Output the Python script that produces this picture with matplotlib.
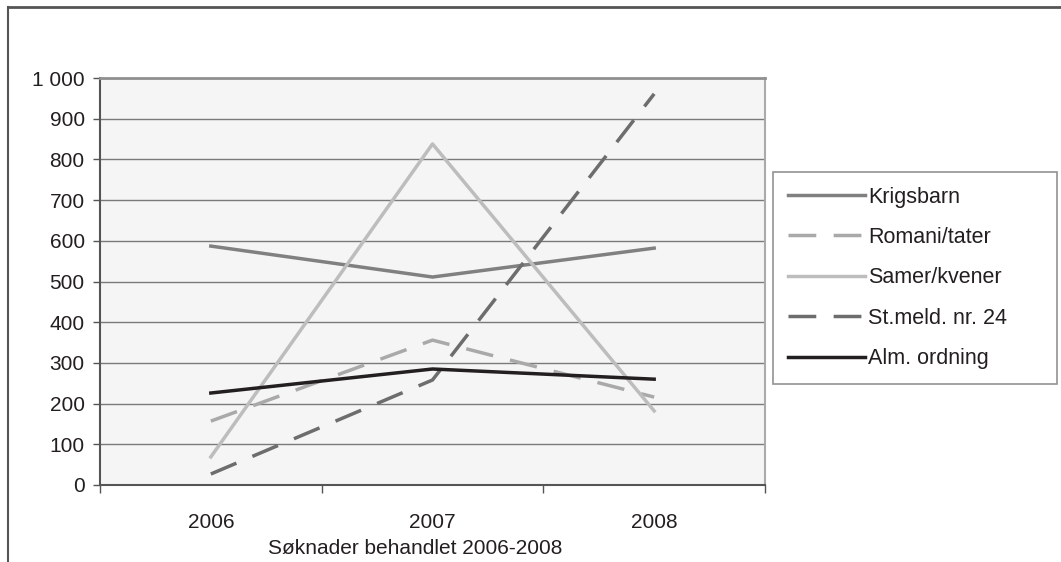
import matplotlib.pyplot as plt
from matplotlib.lines import Line2D
from matplotlib.ticker import FuncFormatter

plt.rcParams['font.family'] = ['Liberation Sans', 'DejaVu Sans']

years = ['2006', '2007', '2008']
krigsbarn = [587, 511, 582]
romani = [157, 356, 216]
samer = [69, 838, 182]
stmeld = [27, 258, 961]
alm = [226, 285, 260]

fig = plt.figure(figsize=(10.61, 5.62), dpi=100)
ax = fig.add_axes([100/1061, 1 - 485/562, 665/1061, 407/562])
ax.set_facecolor('#f4f5f4')

x = range(len(years))
lw = 2.5
ax.plot(x, krigsbarn, color='#808080', lw=lw, label='Krigsbarn')
ax.plot(x, romani, color='#a9a9a9', lw=lw, dashes=(8, 5), label='Romani/tater')
ax.plot(x, samer, color='#bdbdbd', lw=lw, label='Samer/kvener')
ax.plot(x, stmeld, color='#6d6d6d', lw=lw, dashes=(8, 5), label='St.meld. nr. 24')
ax.plot(x, alm, color='#231f20', lw=lw, label='Alm. ordning')

fs = 15
ax.set_xlim(-0.5, 2.5)
ax.set_ylim(0, 1000)
ax.set_yticks(range(0, 1001, 100))
ax.yaxis.set_major_formatter(FuncFormatter(lambda v, p: f'{int(v):,}'.replace(',', ' ')))
ax.set_xticks(list(x))
ax.set_xticklabels(years)
ax.set_xticks([-0.5, 0.5, 1.5, 2.5], minor=True)
ax.tick_params(axis='x', which='major', length=0, pad=20, labelsize=fs, colors='#231f20')
ax.tick_params(axis='x', which='minor', length=6, width=1, color='#555555')
ax.tick_params(axis='y', length=5, width=1, color='#555555', labelsize=fs, labelcolor='#231f20', pad=6)
ax.grid(axis='y', color='#7a7a7a', lw=1)
ax.set_axisbelow(True)

ax.spines['top'].set_color('#909090')
ax.spines['top'].set_linewidth(2)
ax.spines['left'].set_color('#555555')
ax.spines['left'].set_linewidth(1.5)
ax.spines['bottom'].set_color('#555555')
ax.spines['bottom'].set_linewidth(1.5)
ax.spines['right'].set_color('#aaaaaa')
ax.spines['right'].set_linewidth(1.5)

fig.text(268/1061, 1 - 548/562, 'Søknader behandlet 2006-2008', fontsize=fs,
         color='#231f20', va='center', ha='left')

leg = fig.legend(loc='upper left', bbox_to_anchor=(773/1061, 1 - 382/562, 284/1061, 210/562),
                 mode='expand', frameon=True, fancybox=False, fontsize=15.5, handlelength=3.6,
                 handletextpad=0.15, labelspacing=0.9, borderpad=0.68, borderaxespad=0)
leg.get_frame().set_edgecolor('#777777')
leg.get_frame().set_linewidth(1.2)
for t in leg.get_texts():
    t.set_color('#231f20')

# outer frame (top and left edges)
fig.add_artist(Line2D([8/1061, 1], [1 - 7/562, 1 - 7/562], color='#555555', lw=2, transform=fig.transFigure))
fig.add_artist(Line2D([8/1061, 8/1061], [0, 1 - 7/562], color='#555555', lw=1.5, transform=fig.transFigure))

fig.savefig('out.png', dpi=100)
